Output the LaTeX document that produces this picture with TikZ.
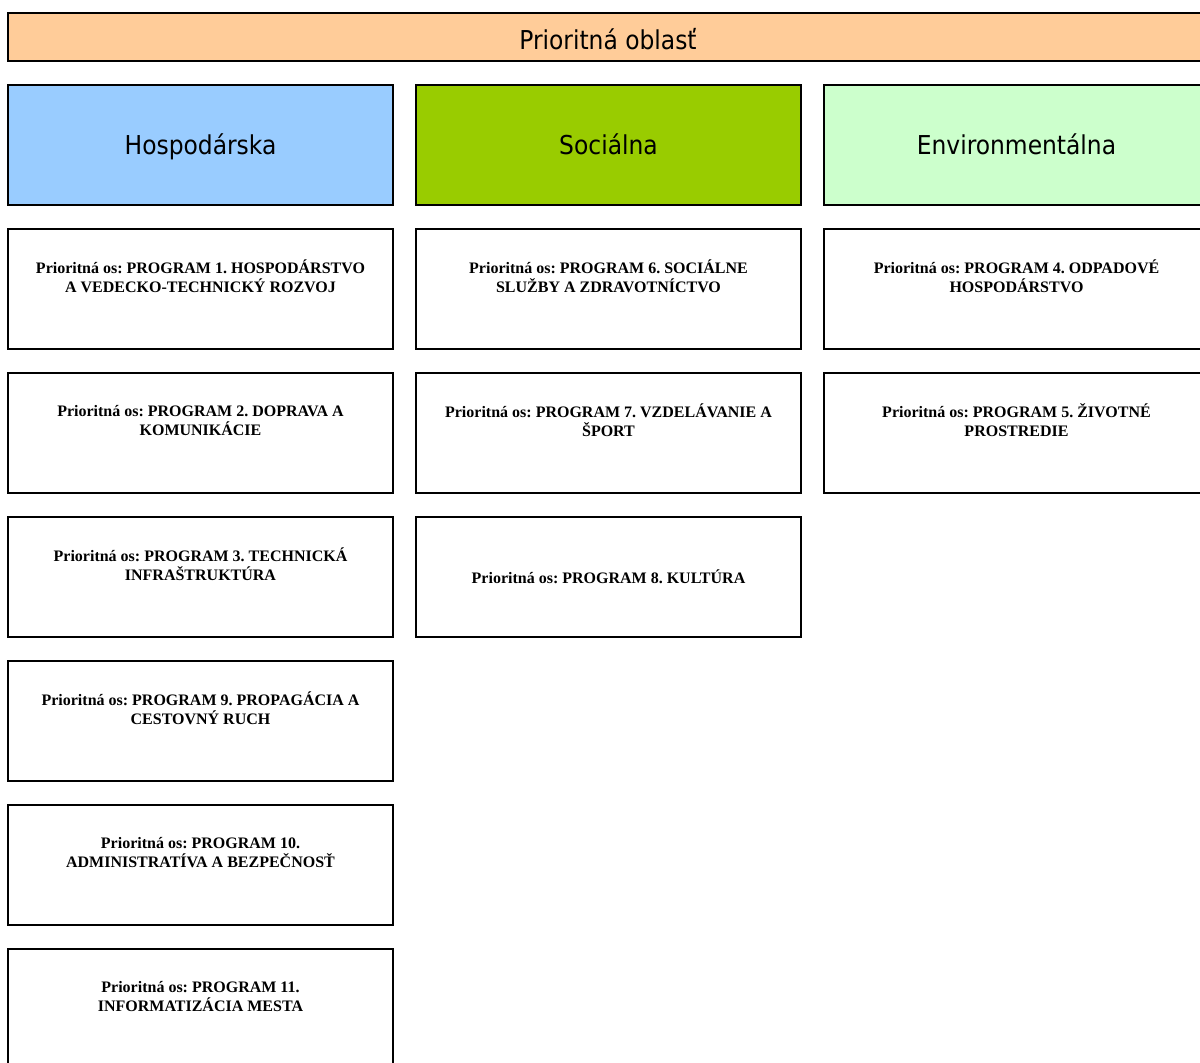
\documentclass[tikz,border=0pt]{standalone}
\usepackage{fontspec}
\setmainfont{Liberation Serif}
\newfontfamily\hdrfont{DejaVu Sans Condensed}
\definecolor{oblast}{RGB}{255,204,153}
\definecolor{hosp}{RGB}{153,204,255}
\definecolor{soc}{RGB}{153,204,0}
\definecolor{env}{RGB}{204,255,204}
\frenchspacing
\newcommand{\emptyrow}{\\[4.5pt]\mbox{}}
\begin{document}
\begin{tikzpicture}[x=0.75pt,y=0.75pt,yscale=-1,xscale=1,
	bar/.style={draw, line width=1.2pt, inner sep=0pt, minimum width=900pt, minimum height=36pt, text height=20pt, text depth=1.5pt, font=\hdrfont\fontsize{19.5}{22}\selectfont},
	area/.style={draw, line width=1.2pt, inner sep=0pt, minimum width=288.75pt, minimum height=90pt, text height=19pt, text depth=4pt, font=\hdrfont\fontsize{19.5}{22}\selectfont},
	prog/.style={draw, line width=1.2pt, inner sep=0pt, minimum width=288.75pt, minimum height=90pt, align=center, font=\bfseries\fontsize{12}{14.25}\selectfont}]
	\clip (0,0) rectangle (1200,1063);
	
	%Shape: Rectangle 
	\node (oblast) [bar, fill=oblast] at (608,37) {Prioritná oblasť};
	
	%Shape: Rectangle 
	\node (hosp) [area, fill=hosp] at (200.5,145) {Hospodárska};
	%Shape: Rectangle 
	\node (soc) [area, fill=soc] at (608.5,145) {Sociálna};
	%Shape: Rectangle 
	\node (env) [area, fill=env] at (1016.5,145) {Environmentálna};
	
	% Text Node
	\node (p1) [prog] at (200.5,289) {Prioritná os: PROGRAM 1. HOSPODÁRSTVO\\A VEDECKO-TECHNICKÝ ROZVOJ\emptyrow};
	% Text Node
	\node (p2) [prog] at (200.5,433) {Prioritná os: PROGRAM 2. DOPRAVA A\\KOMUNIKÁCIE\emptyrow};
	% Text Node
	\node (p3) [prog] at (200.5,577) {Prioritná os: PROGRAM 3. TECHNICKÁ\\INFRAŠTRUKTÚRA\emptyrow};
	% Text Node
	\node (p9) [prog] at (200.5,721) {Prioritná os: PROGRAM 9. PROPAGÁCIA A\\CESTOVNÝ RUCH\emptyrow};
	% Text Node
	\node (p10) [prog] at (200.5,865) {Prioritná os: PROGRAM 10.\\ADMINISTRATÍVA A BEZPEČNOSŤ\emptyrow};
	% Text Node
	\node (p11) [prog] at (200.5,1009) {Prioritná os: PROGRAM 11.\\INFORMATIZÁCIA MESTA\emptyrow};
	
	% Text Node
	\node (p6) [prog] at (608.5,289) {Prioritná os: PROGRAM 6. SOCIÁLNE\\SLUŽBY A ZDRAVOTNÍCTVO\emptyrow};
	% Text Node
	\node (p7) [prog] at (608.5,433) {Prioritná os: PROGRAM 7. VZDELÁVANIE A\\ŠPORT\emptyrow};
	% Text Node
	\node (p8) [prog] at (608.5,577) {Prioritná os: PROGRAM 8. KULTÚRA};
	
	% Text Node
	\node (p4) [prog] at (1016.5,289) {Prioritná os: PROGRAM 4. ODPADOVÉ\\HOSPODÁRSTVO\emptyrow};
	% Text Node
	\node (p5) [prog] at (1016.5,433) {Prioritná os: PROGRAM 5. ŽIVOTNÉ\\PROSTREDIE\emptyrow};
	
\end{tikzpicture}
\end{document}
